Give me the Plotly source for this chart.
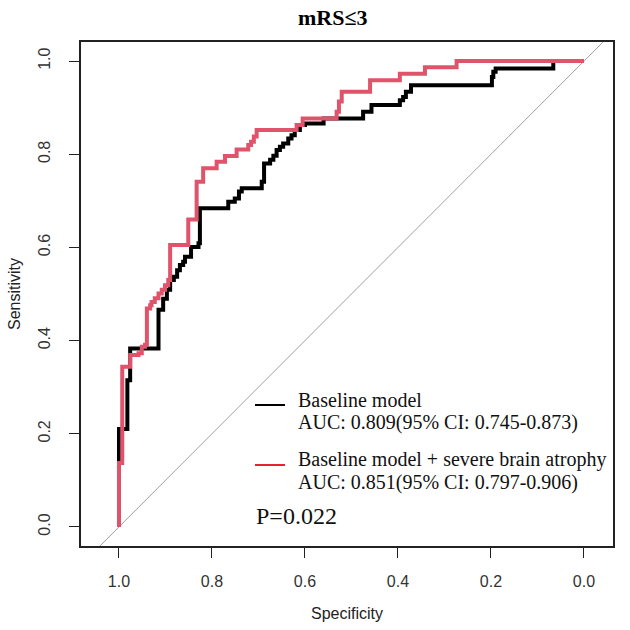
import plotly.graph_objects as go

# ROC step points (specificity, sensitivity)
base_spec = [1.0, 0.982, 0.976, 0.915, 0.905, 0.897, 0.89, 0.882, 0.875, 0.869, 0.862,
             0.858, 0.845, 0.829, 0.826, 0.765, 0.751, 0.742, 0.736, 0.693, 0.688, 0.675,
             0.668, 0.661, 0.654, 0.647, 0.636, 0.629, 0.622, 0.611, 0.6, 0.56, 0.475,
             0.457, 0.396, 0.389, 0.383, 0.372, 0.198, 0.195, 0.19, 0.066, 0.0]
base_sens = [0.0, 0.21, 0.315, 0.383, 0.466, 0.49, 0.509, 0.53, 0.537, 0.551, 0.562,
             0.569, 0.58, 0.601, 0.609, 0.684, 0.698, 0.705, 0.72, 0.727, 0.741, 0.78,
             0.788, 0.797, 0.809, 0.816, 0.823, 0.834, 0.841, 0.852, 0.863, 0.866, 0.877,
             0.891, 0.906, 0.916, 0.923, 0.934, 0.948, 0.966, 0.977, 0.984, 1.0]

atro_spec = [1.0, 0.993, 0.976, 0.958, 0.951, 0.944, 0.94, 0.933, 0.93, 0.923, 0.915,
             0.908, 0.901, 0.894, 0.89, 0.851, 0.833, 0.819, 0.79, 0.772, 0.747, 0.722,
             0.716, 0.71, 0.704, 0.618, 0.605, 0.532, 0.527, 0.521, 0.46, 0.396, 0.342,
             0.274, 0.0]
atro_sens = [0.0, 0.137, 0.344, 0.369, 0.373, 0.387, 0.391, 0.469, 0.476, 0.483, 0.491,
             0.501, 0.509, 0.519, 0.53, 0.605, 0.66, 0.741, 0.77, 0.784, 0.796, 0.81,
             0.82, 0.827, 0.838, 0.852, 0.863, 0.877, 0.891, 0.913, 0.934, 0.959, 0.973,
             0.987, 1.0]

ticks = [1.0, 0.8, 0.6, 0.4, 0.2, 0.0]
tick_text = ["1.0", "0.8", "0.6", "0.4", "0.2", "0.0"]

diag_spec = [1.2, -0.2]
diag_sens = [1 - s for s in diag_spec]

legend_lines = [["Baseline model", "AUC: 0.809(95% CI: 0.745-0.873)"],
                ["Baseline model + severe brain atrophy", "AUC: 0.851(95% CI: 0.797-0.906)"]]
p_text = "P=0.022"

RED = "#DF536B"
serif = "Liberation Serif, Times New Roman, serif"
sans = "Liberation Sans, Arial, sans-serif"

fig = go.Figure()
fig.add_trace(go.Scatter(x=diag_spec, y=diag_sens, mode="lines",
                         line=dict(color="#A0A0A0", width=1), hoverinfo="skip"))
fig.add_trace(go.Scatter(x=base_spec, y=base_sens, mode="lines", line_shape="vh",
                         line=dict(color="black", width=4)))
fig.add_trace(go.Scatter(x=atro_spec, y=atro_sens, mode="lines", line_shape="vh",
                         line=dict(color=RED, width=4)))

axis_common = dict(showgrid=False, zeroline=False, showline=True, mirror=True,
                   linecolor="#222", linewidth=1.5, ticks="outside", ticklen=10,
                   tickcolor="#222", tickwidth=1.2, tickvals=ticks, ticktext=tick_text,
                   tickfont=dict(family=sans, size=16, color="#333"))
fig.update_xaxes(range=[1.0817, -0.0624], ticklabelstandoff=10, **axis_common)
fig.update_yaxes(range=[-0.041, 1.041], tickangle=-90, ticklabelstandoff=13, **axis_common)

# legend drawn by hand like base R, positions in page pixels
def px(x):
    return (x - 81) / 532


def py(y):
    return (546 - y) / 504


for color, ly, (l1, l2) in zip(["black", "#E3242B"], [405, 465], legend_lines):
    fig.add_shape(type="line", xref="paper", yref="paper", x0=px(255), x1=px(285),
                  y0=py(ly), y1=py(ly), line=dict(color=color, width=2))
    for txt, ty in [(l1, ly - 5), (l2, ly + 17)]:
        fig.add_annotation(text=txt, xref="paper", yref="paper", x=px(296), y=py(ty),
                           showarrow=False, xanchor="left", yanchor="middle",
                           font=dict(family=serif, size=20, color="#111"))
fig.add_annotation(text=p_text, xref="paper", yref="paper", x=px(254), y=py(516), showarrow=False,
                   xanchor="left", yanchor="middle", font=dict(family=serif, size=24, color="#111"))

fig.add_annotation(text="<b>mRS≤3</b>", xref="paper", yref="paper", x=px(333), y=1.0, yshift=25,
                   showarrow=False, yanchor="middle",
                   font=dict(family=serif, size=22, color="black"))
fig.add_annotation(text="Specificity", xref="paper", yref="paper", x=0.5, y=0, yshift=-67,
                   showarrow=False, yanchor="middle", font=dict(family=sans, size=16, color="#222"))
fig.add_annotation(text="Sensitivity", xref="paper", yref="paper", x=0, y=0.5, xshift=-67,
                   textangle=-90, showarrow=False, xanchor="center",
                   font=dict(family=sans, size=16, color="#222"))

fig.update_layout(width=630, height=630, autosize=False, showlegend=False,
                  margin=dict(l=81, r=17, t=42, b=84),
                  plot_bgcolor="white", paper_bgcolor="white")

# drop the default page margin so the figure sits at the window's corner
fig.write_html("out.html", config={"displayModeBar": False},
               post_script="document.body.style.margin='0';")
